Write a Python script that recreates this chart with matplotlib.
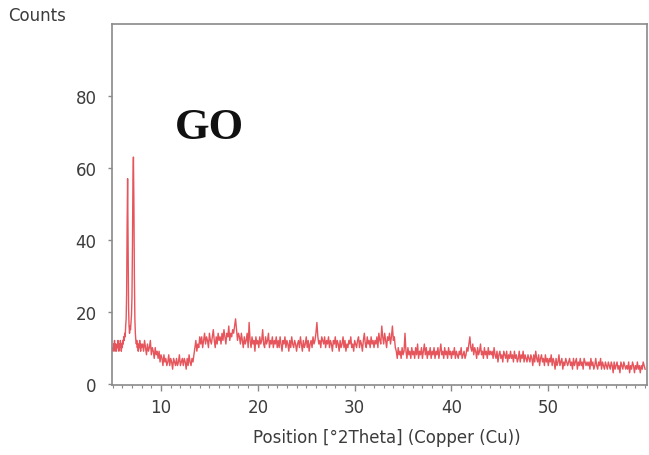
import numpy as np
import matplotlib.pyplot as plt
from matplotlib.ticker import MultipleLocator

# low-angle part, scanned finely around the two sharp reflections (5.00-8.00, step 0.05)
low_start, low_step = 5.0, 0.05
low_counts = [
    10, 9, 11, 10, 12, 9, 11, 10, 9, 11, 10, 12, 10, 9, 11, 10, 12, 11, 9, 11,
    10, 12, 11, 13, 12, 14, 13, 16, 18, 25, 44, 57, 40, 21, 16, 14, 16, 15, 17, 19,
    24, 38, 56, 63, 50, 30, 18, 14, 12, 11, 12, 10, 11, 9, 11, 10, 12, 10, 9, 11, 10,
]

# rest of the scan (8.1-60.0, step 0.1), one row per 2 degrees
high_start, high_step = 8.1, 0.1
high_counts = [
    11, 9, 12, 10, 8, 11, 9, 10, 12, 8, 10, 9, 7, 10, 8, 9, 7, 9, 6, 8,
    7, 5, 8, 6, 7, 5, 6, 8, 5, 7, 6, 4, 7, 6, 5, 7, 5, 6, 8, 5,
    6, 7, 5, 7, 6, 4, 7, 5, 8, 6, 5, 7, 6, 8, 10, 12, 9, 11, 10, 13,
    11, 13, 10, 12, 14, 11, 13, 12, 10, 14, 12, 11, 13, 15, 12, 10, 13, 11, 14, 12,
    13, 11, 14, 12, 15, 13, 11, 14, 13, 16, 12, 14, 13, 15, 14, 16, 18, 15, 12, 14,
    13, 11, 14, 12, 10, 13, 11, 12, 14, 10, 17, 12, 10, 13, 11, 12, 9, 13, 11, 12,
    10, 13, 11, 12, 15, 11, 10, 13, 11, 12, 14, 10, 12, 11, 13, 10, 12, 11, 13, 10,
    12, 10, 13, 11, 9, 12, 11, 13, 10, 12, 11, 9, 12, 10, 13, 11, 10, 12, 11, 9,
    11, 12, 10, 13, 11, 9, 12, 10, 11, 13, 10, 12, 9, 11, 12, 10, 13, 11, 12, 14,
    17, 13, 11, 12, 10, 13, 12, 11, 13, 10, 12, 11, 13, 10, 12, 11, 9, 12, 11, 13,
    10, 12, 11, 9, 12, 10, 11, 13, 10, 12, 9, 11, 10, 12, 11, 13, 10, 11, 9, 12,
    11, 10, 12, 13, 10, 12, 11, 9, 12, 14, 11, 10, 13, 11, 12, 10, 13, 11, 12, 10,
    12, 11, 13, 10, 14, 12, 11, 16, 13, 11, 14, 12, 10, 13, 12, 14, 11, 13, 16, 12,
    13, 10, 9, 7, 10, 8, 9, 7, 10, 8, 9, 14, 9, 7, 10, 8, 9, 7, 10, 8,
    9, 7, 10, 8, 11, 7, 9, 8, 10, 7, 9, 11, 8, 10, 7, 9, 8, 10, 7, 9,
    8, 10, 7, 9, 8, 10, 7, 9, 11, 8, 9, 7, 10, 8, 9, 7, 10, 8, 9, 7,
    9, 8, 10, 7, 9, 8, 7, 9, 8, 10, 7, 8, 9, 7, 8, 10, 9, 11, 13, 10,
    9, 11, 8, 10, 9, 7, 10, 8, 9, 11, 8, 9, 7, 10, 8, 9, 7, 10, 8, 9,
    8, 9, 7, 10, 8, 7, 9, 6, 8, 9, 7, 8, 6, 9, 8, 7, 9, 6, 8, 7,
    9, 7, 8, 6, 9, 7, 8, 6, 7, 9, 6, 8, 7, 9, 6, 8, 7, 6, 8, 7,
    6, 8, 7, 5, 8, 6, 9, 7, 6, 8, 5, 7, 8, 6, 7, 5, 8, 6, 7, 5,
    7, 6, 8, 5, 7, 6, 4, 7, 5, 6, 8, 5, 6, 7, 4, 6, 5, 7, 6, 5,
    6, 7, 5, 6, 4, 7, 5, 6, 7, 4, 6, 5, 7, 5, 6, 4, 7, 6, 5, 6,
    5, 6, 4, 7, 5, 6, 4, 5, 7, 5, 4, 6, 5, 7, 4, 6, 5, 4, 6, 5,
    4, 6, 5, 4, 6, 5, 3, 6, 4, 5, 6, 4, 5, 3, 6, 5, 4, 6, 5, 4,
    5, 4, 6, 3, 5, 4, 6, 5, 3, 5, 4, 6, 4, 5, 3, 5, 4, 6, 5, 4,
]

y_ticks = [0, 20, 40, 60, 80]
x_ticks = [10, 20, 30, 40, 50]

AXIS_GRAY = "#8a8a8a"
TEXT_GRAY = "#3c3c3c"
TRACE_RED = "#e02a32"

two_theta = np.concatenate([
    low_start + low_step * np.arange(len(low_counts)),
    high_start + high_step * np.arange(len(high_counts)),
])
counts = np.array(low_counts + high_counts, dtype=float)

fig = plt.figure(figsize=(6.49, 4.56), dpi=100)
ax = fig.add_axes([0.1726, 0.1535, 0.8244, 0.7915])

# semi-transparent so the dense noise reads red and the lone peak lines pink
ax.plot(two_theta, counts, color=TRACE_RED, lw=1.0, alpha=0.8)

ax.set_xlim(4.94, 60.2)
ax.set_ylim(-0.4, 100)
ax.set_xticks(x_ticks)
ax.set_yticks(y_ticks)
ax.xaxis.set_minor_locator(MultipleLocator(1))

for spine in ax.spines.values():
    spine.set_color(AXIS_GRAY)
    spine.set_linewidth(1.2)

ax.tick_params(axis="both", which="both", direction="out", colors=AXIS_GRAY,
               labelcolor=TEXT_GRAY, labelsize=12)
ax.tick_params(axis="x", which="major", length=4, width=1, pad=5)
ax.tick_params(axis="x", which="minor", length=2.5, width=0.8)
ax.tick_params(axis="y", which="major", length=3, width=1, pad=8)

ax.text(15, 71.5, "GO", ha="center", va="center", fontsize=32,
        fontweight="bold", family="Liberation Serif", color="#111111")

fig.text(0.012, 0.965, "Counts", ha="left", va="center", fontsize=12,
         color=TEXT_GRAY)
fig.text(387 / 649, 1 - 438 / 456, "Position [°2Theta] (Copper (Cu))",
         ha="center", va="center", fontsize=12, color=TEXT_GRAY)

fig.savefig("out.png", dpi=100)
